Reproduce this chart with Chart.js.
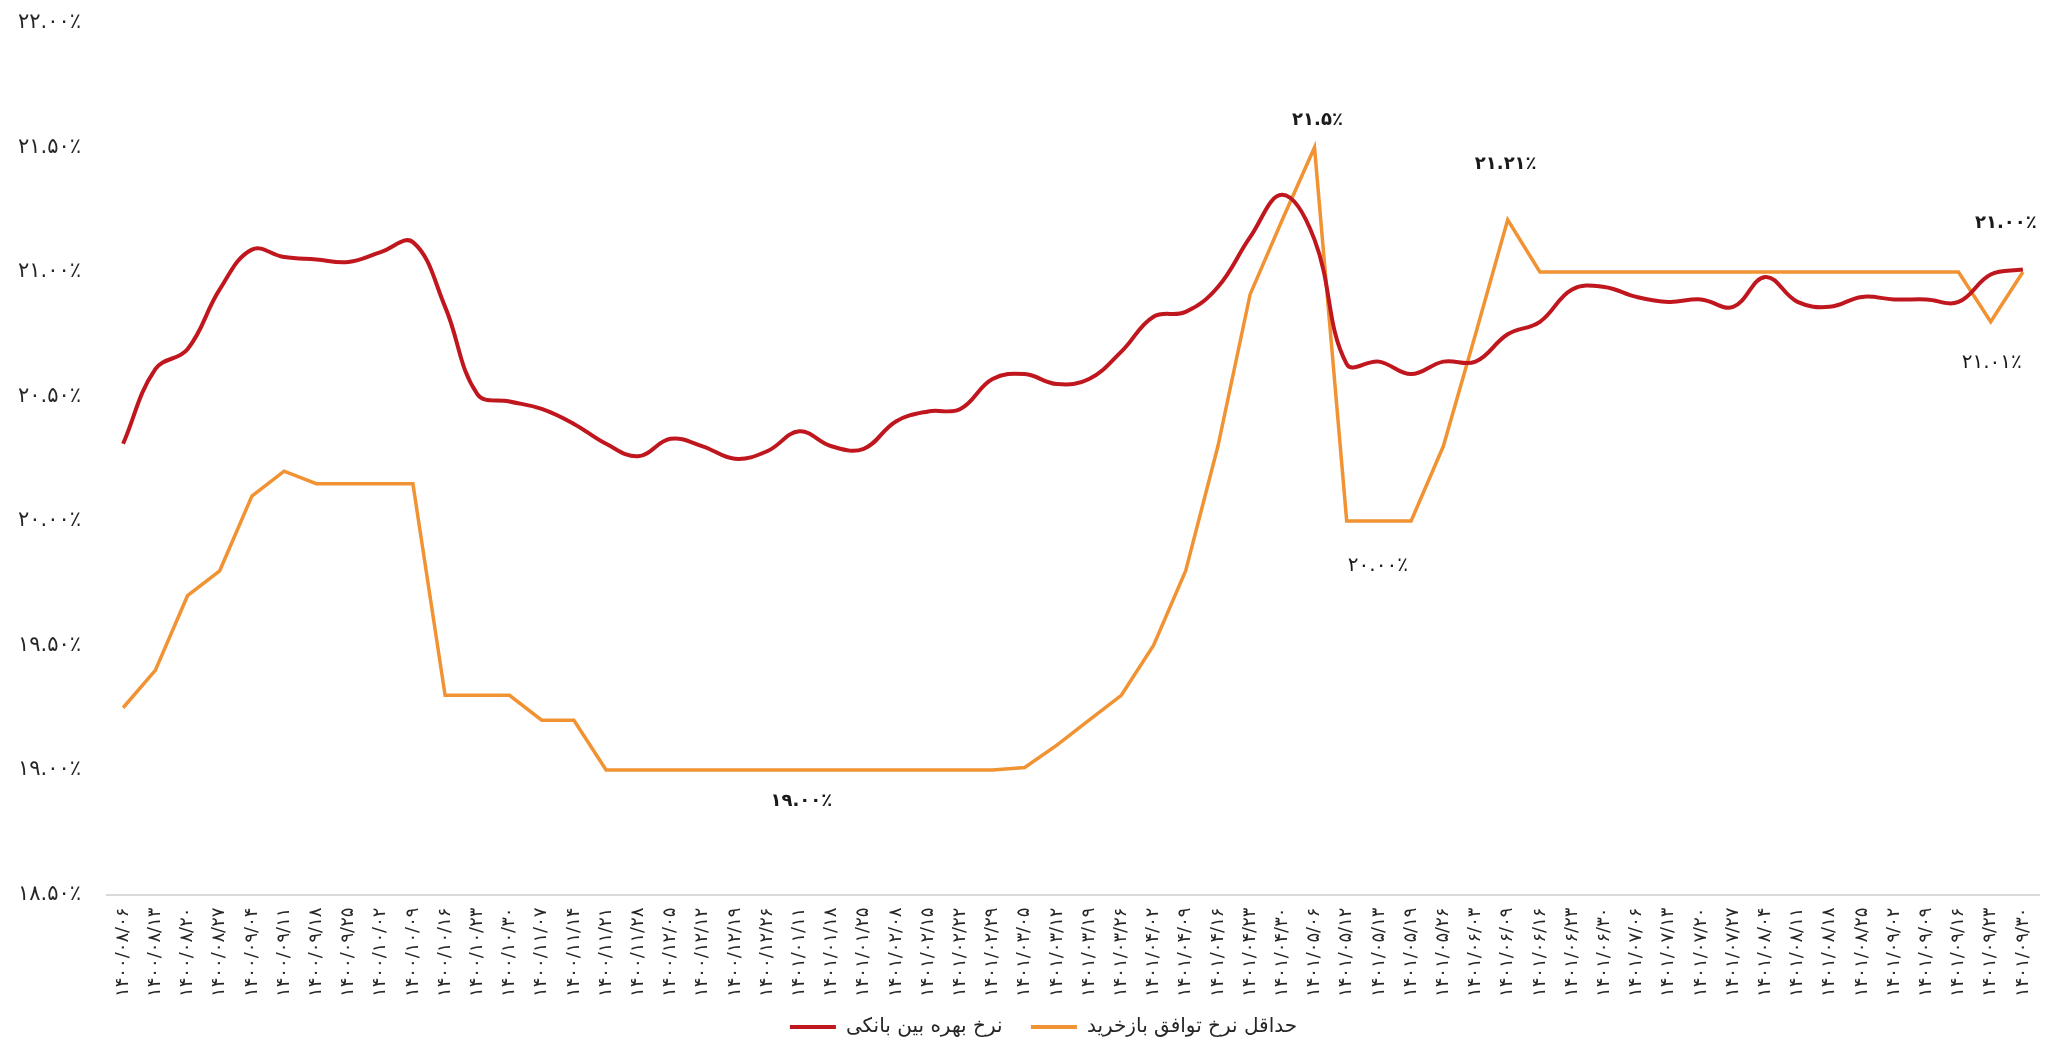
<!DOCTYPE html>
<html>
<head>
<meta charset="utf-8">
<script src="https://cdn.jsdelivr.net/npm/chart.js@4"></script>
<style>
  html, body { margin: 0; padding: 0; background: #fff; }
  #wrap { width: 2049px; height: 1042px; position: relative; }
</style>
</head>
<body>
<div id="wrap"><canvas id="chart"></canvas></div>
<script>
// تاریخ‌ها (محور افقی)
var dates = ['۱۴۰۰/۰۸/۰۶','۱۴۰۰/۰۸/۱۳','۱۴۰۰/۰۸/۲۰','۱۴۰۰/۰۸/۲۷','۱۴۰۰/۰۹/۰۴','۱۴۰۰/۰۹/۱۱','۱۴۰۰/۰۹/۱۸','۱۴۰۰/۰۹/۲۵','۱۴۰۰/۱۰/۰۲','۱۴۰۰/۱۰/۰۹','۱۴۰۰/۱۰/۱۶','۱۴۰۰/۱۰/۲۳','۱۴۰۰/۱۰/۳۰','۱۴۰۰/۱۱/۰۷','۱۴۰۰/۱۱/۱۴','۱۴۰۰/۱۱/۲۱','۱۴۰۰/۱۱/۲۸','۱۴۰۰/۱۲/۰۵','۱۴۰۰/۱۲/۱۲','۱۴۰۰/۱۲/۱۹','۱۴۰۰/۱۲/۲۶',
  '۱۴۰۱/۰۱/۱۱','۱۴۰۱/۰۱/۱۸','۱۴۰۱/۰۱/۲۵','۱۴۰۱/۰۲/۰۸','۱۴۰۱/۰۲/۱۵','۱۴۰۱/۰۲/۲۲','۱۴۰۱/۰۲/۲۹','۱۴۰۱/۰۳/۰۵','۱۴۰۱/۰۳/۱۲','۱۴۰۱/۰۳/۱۹','۱۴۰۱/۰۳/۲۶','۱۴۰۱/۰۴/۰۲','۱۴۰۱/۰۴/۰۹','۱۴۰۱/۰۴/۱۶','۱۴۰۱/۰۴/۲۳','۱۴۰۱/۰۴/۳۰','۱۴۰۱/۰۵/۰۶','۱۴۰۱/۰۵/۱۲','۱۴۰۱/۰۵/۱۳','۱۴۰۱/۰۵/۱۹','۱۴۰۱/۰۵/۲۶','۱۴۰۱/۰۶/۰۳','۱۴۰۱/۰۶/۰۹','۱۴۰۱/۰۶/۱۶','۱۴۰۱/۰۶/۲۳','۱۴۰۱/۰۶/۳۰','۱۴۰۱/۰۷/۰۶','۱۴۰۱/۰۷/۱۳','۱۴۰۱/۰۷/۲۰','۱۴۰۱/۰۷/۲۷','۱۴۰۱/۰۸/۰۴','۱۴۰۱/۰۸/۱۱','۱۴۰۱/۰۸/۱۸','۱۴۰۱/۰۸/۲۵','۱۴۰۱/۰۹/۰۲','۱۴۰۱/۰۹/۰۹','۱۴۰۱/۰۹/۱۶','۱۴۰۱/۰۹/۲۳','۱۴۰۱/۰۹/۳۰'];

// نرخ بهره بین بانکی
var interbank = [20.31, 20.61, 20.69, 20.93, 21.09, 21.06, 21.05, 21.04, 21.08, 21.12,
  20.86, 20.51, 20.48, 20.45, 20.39, 20.31, 20.26, 20.33, 20.30, 20.25,
  20.28, 20.36, 20.30, 20.29, 20.40, 20.44, 20.45, 20.57, 20.59, 20.55,
  20.57, 20.68, 20.82, 20.84, 20.94, 21.14, 21.31, 21.13, 20.63, 20.64,
  20.59, 20.64, 20.64, 20.75, 20.80, 20.93, 20.94, 20.90, 20.88, 20.89,
  20.86, 20.98, 20.88, 20.86, 20.90, 20.89, 20.89, 20.88, 20.99, 21.01];

// حداقل نرخ توافق بازخرید
var repoMin = [19.25, 19.40, 19.70, 19.80, 20.10, 20.20, 20.15, 20.15, 20.15, 20.15,
  19.30, 19.30, 19.30, 19.20, 19.20, 19.00, 19.00, 19.00, 19.00, 19.00,
  19.00, 19.00, 19.00, 19.00, 19.00, 19.00, 19.00, 19.00, 19.01, 19.10,
  19.20, 19.30, 19.50, 19.80, 20.30, 20.91, 21.21, 21.50, 20.00, 20.00,
  20.00, 20.30, 20.75, 21.21, 21.00, 21.00, 21.00, 21.00, 21.00, 21.00,
  21.00, 21.00, 21.00, 21.00, 21.00, 21.00, 21.00, 21.00, 20.80, 21.00];

var seriesNames = ['نرخ بهره بین بانکی', 'حداقل نرخ توافق بازخرید'];

var yTicks = [18.5, 19, 19.5, 20, 20.5, 21, 21.5, 22];
var yTickLabels = ['۱۸.۵۰٪', '۱۹.۰۰٪', '۱۹.۵۰٪', '۲۰.۰۰٪', '۲۰.۵۰٪', '۲۱.۰۰٪', '۲۱.۵۰٪', '۲۲.۰۰٪'];

// برچسب‌های روی نمودار: سری، اندیس، متن
var noteSeries = [1, 1, 1, 1, 1, 1];
var noteIndex = [37, 43, 59, 58, 39, 21];
var noteText = ['۲۱.۵٪', '۲۱.۲۱٪', '۲۱.۰۰٪', '۲۱.۰۱٪', '۲۰.۰۰٪', '۱۹.۰۰٪'];

// جای و سبک برچسب‌ها
var noteStyle = [
  { dx: 3, dy: -27, bold: true, size: 18 },
  { dx: -2, dy: -55, bold: true, size: 18 },
  { dx: -17, dy: -49, bold: true, size: 18 },
  { dx: 1, dy: 41, bold: false, size: 20 },
  { dx: -1, dy: 45, bold: false, size: 20 },
  { dx: 2, dy: 31, bold: true, size: 18 }
];

var FONT = "'DejaVu Sans', sans-serif";

var notesPlugin = {
  id: 'notes',
  afterDatasetsDraw: function (chart) {
    var ctx = chart.ctx;
    var x = chart.scales.x, y = chart.scales.y;
    ctx.save();
    ctx.fillStyle = '#1a1a1a';
    ctx.textAlign = 'center';
    ctx.textBaseline = 'middle';
    for (var i = 0; i < noteText.length; i++) {
      var ds = chart.data.datasets[noteSeries[i]];
      var px = x.getPixelForValue(noteIndex[i]);
      var py = y.getPixelForValue(ds.data[noteIndex[i]]);
      var st = noteStyle[i];
      ctx.font = (st.bold ? 'bold ' : '') + st.size + 'px ' + FONT;
      ctx.fillText(noteText[i], px + st.dx, py + st.dy);
    }
    ctx.restore();
  }
};

// راهنما کمی به راست
var legendShift = {
  id: 'legendShift',
  afterLayout: function (chart) {
    chart.legend.left += 24;
    chart.legend.right += 24;
  }
};

var ctx = document.getElementById('chart').getContext('2d');
var myChart = new Chart(ctx, {
  type: 'line',
  data: {
    labels: dates,
    datasets: [{
      label: seriesNames[0],
      data: interbank,
      borderColor: '#C0161D',
      backgroundColor: '#C0161D',
      borderWidth: 4,
      tension: 0.4,
      pointRadius: 0,
      fill: false
    }, {
      label: seriesNames[1],
      data: repoMin,
      borderColor: '#F19233',
      backgroundColor: '#F19233',
      borderWidth: 3.5,
      tension: 0,
      pointRadius: 0,
      fill: false
    }]
  },
  options: {
    responsive: true,
    maintainAspectRatio: false,
    animation: false,
    layout: { padding: { top: 23, right: 10, bottom: -5, left: 0 } },
    scales: {
      x: {
        offset: true,
        grid: { display: false, drawTicks: true, tickLength: 13 },
        border: { display: true, color: '#d9d9d9', width: 2 },
        ticks: {
          autoSkip: false,
          maxRotation: 90,
          minRotation: 90,
          padding: 0,
          color: '#262626',
          font: { family: FONT, size: 18 }
        },
        afterFit: function (scale) { scale.height = 120.5; }
      },
      y: {
        min: 18.5,
        max: 22,
        grid: { display: false, drawTicks: true, tickLength: 26 },
        border: { display: false },
        ticks: {
          stepSize: 0.5,
          padding: 0,
          color: '#262626',
          font: { family: FONT, size: 21 },
          callback: function (value) {
            var k = yTicks.indexOf(Math.round(value * 100) / 100);
            return k >= 0 ? yTickLabels[k] : '';
          }
        },
        afterFit: function (scale) { scale.width = 107; }
      }
    },
    plugins: {
      legend: {
        position: 'bottom',
        labels: {
          boxWidth: 46,
          boxHeight: 4,
          padding: 2,
          color: '#262626',
          font: { family: FONT, size: 20 },
          generateLabels: function (chart) {
            var items = Chart.defaults.plugins.legend.labels.generateLabels(chart);
            items.forEach(function (it, i) {
              it.lineWidth = 0;
              // فاصلهٔ میان دو مورد راهنما
              if (i === 0) it.text = it.text + '\u2003\u00a0';
            });
            return items;
          }
        }
      },
      tooltip: { enabled: false }
    }
  },
  plugins: [notesPlugin, legendShift]
});
</script>
</body>
</html>
